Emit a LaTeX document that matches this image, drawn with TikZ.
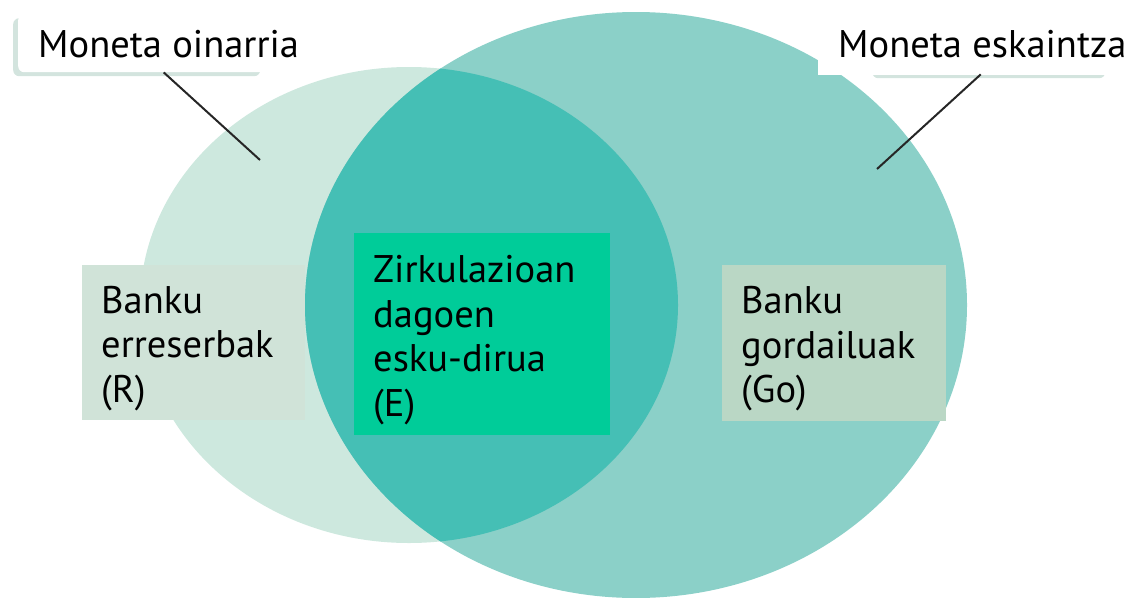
\documentclass[tikz,border=0pt]{standalone}
\usepackage{fontspec}
\setmainfont{PT Sans}
\usetikzlibrary{positioning}
\usetikzlibrary{shadows}
\definecolor{reserveell}{HTML}{CDE8DE}
\definecolor{supplyell}{HTML}{8BD0C8}
\definecolor{overlapell}{HTML}{45BFB5}
\definecolor{reservebox}{HTML}{D0E3D8}
\definecolor{cashbox}{HTML}{00CC99}
\definecolor{depositbox}{HTML}{BAD7C5}
\definecolor{shadowc}{HTML}{D3E4DE}

\begin{document}
\begin{tikzpicture}
    [x=1pt, y=-1pt,
     box/.style={rectangle, anchor=north west, inner xsep=19pt, inner ysep=0pt, align=left,
                 text height=39pt, font=\fontsize{38.5}{44.5}\selectfont},
     lblbox/.style={rectangle, rounded corners=6pt, fill=white, anchor=north west, inner sep=0pt,
                    drop shadow={shadow xshift=-5pt, shadow yshift=-4pt, fill=shadowc, opacity=1}},
     lbltext/.style={anchor=base west, inner sep=0pt, font=\fontsize{38.5}{44.5}\selectfont},
     ln/.style={draw=black!85, line width=2pt}]

    \useasboundingbox (0,0) rectangle (1126,597);

    \fill [reserveell] (409,305) ellipse [x radius=269, y radius=238];
    \fill [supplyell] (636,305) ellipse [x radius=331, y radius=293];
    \begin{scope}
        \clip (409,305) ellipse [x radius=269, y radius=238];
        \fill [overlapell] (636,305) ellipse [x radius=331, y radius=293];
    \end{scope}

    \node [box, fill=reservebox, minimum height=155pt, text width=185pt] (reserves) at (82,265) {
	Banku\\
	erreserbak\\
	(R)
    };
    \node [box, fill=cashbox, minimum height=202pt, text width=218pt] (cash) at (354,233) {
	Zirkulazioan\\
	dagoen\\
	esku-dirua\\
	(E)
    };
    \node [box, fill=depositbox, minimum height=156pt, text width=186pt] (deposits) at (722,265) {
	Banku\\
	gordailuak\\
	(Go)
    };

    \node [lblbox, minimum width=247pt, minimum height=58pt] (oinBox) at (18,14) {};
    \node [lbltext] (oinText) at (38,57) {Moneta oinarria};

    \node [lblbox, minimum width=233pt, minimum height=60pt] (eskBox) at (877,14) {};
    \node [rectangle, fill=white, anchor=north west, minimum width=308pt, minimum height=60pt] (eskBg) at (818,15) {};
    \node [lbltext] (eskText) at (838,57) {Moneta eskaintza};

    \coordinate (oinEnd) at (260,160);
    \coordinate (eskEnd) at (877,169);

    \draw [ln] ([xshift=22pt] oinBox.south) -- (oinEnd);
    \draw [ln] ([xshift=-13pt] eskBox.south) -- (eskEnd);
\end{tikzpicture}
\end{document}
